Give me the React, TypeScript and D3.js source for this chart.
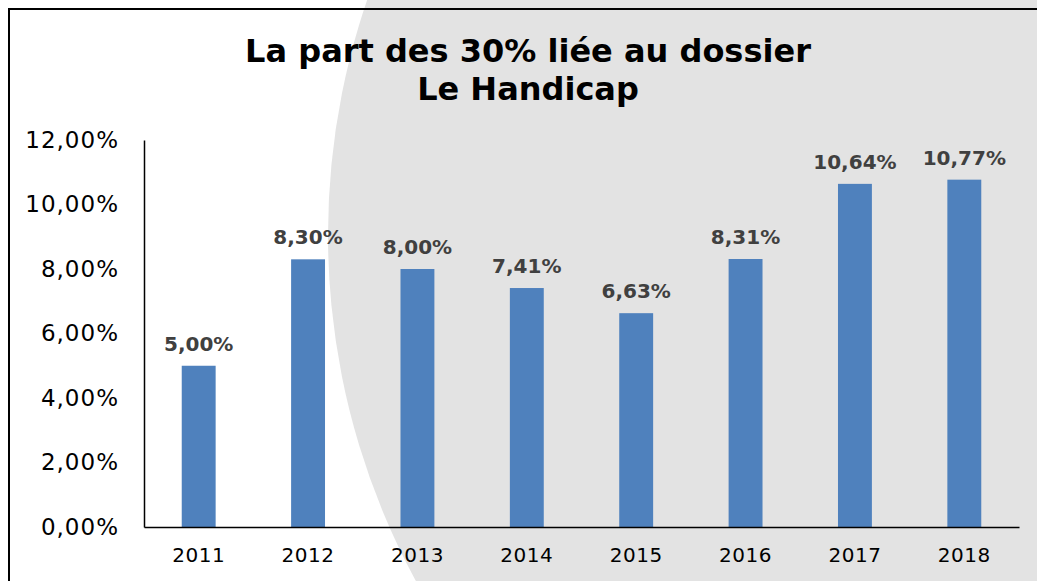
import { useEffect, useRef } from 'react';
import * as d3 from 'd3';

const years = ['2011', '2012', '2013', '2014', '2015', '2016', '2017', '2018'];
const shares = [5.0, 8.3, 8.0, 7.41, 6.63, 8.31, 10.64, 10.77];
const yTicks = [0, 2, 4, 6, 8, 10, 12];
const titleLines = ['La part des 30% liée au dossier', 'Le Handicap'];

const W = 1037;
const H = 581;
const FONT = '"DejaVu Sans", Verdana, sans-serif';

const fmt = (v: number) => v.toFixed(2).replace('.', ',') + '%';

export default function App() {
  const svgRef = useRef<SVGSVGElement>(null);

  useEffect(() => {
    if (!svgRef.current) return;
    const svg = d3.select(svgRef.current);
    svg.selectAll('*').remove();

    const plot = { left: 144, right: 1019, top: 140, bottom: 527 };

    const x = d3
      .scaleBand<string>()
      .domain(years)
      .range([plot.left, plot.right])
      .paddingInner(0.69)
      .paddingOuter(0.345);

    const y = d3.scaleLinear().domain([0, 12]).range([plot.bottom, plot.top]);

    // background
    svg.append('rect').attr('width', W).attr('height', H).attr('fill', '#ffffff');
    svg
      .append('circle')
      .attr('cx', 1053)
      .attr('cy', 235)
      .attr('r', 725)
      .attr('fill', '#e3e3e3');

    // frame (top + left visible)
    svg
      .append('path')
      .attr('d', `M9,${H} L9,9 L${W},9`)
      .attr('fill', 'none')
      .attr('stroke', '#000')
      .attr('stroke-width', 2);

    // title
    svg
      .append('g')
      .selectAll('text')
      .data(titleLines)
      .enter()
      .append('text')
      .attr('x', 528)
      .attr('y', (_d, i) => 62 + i * 38)
      .attr('text-anchor', 'middle')
      .style('font-family', FONT)
      .style('font-weight', 'bold')
      .style('font-size', '32px')
      .style('fill', '#000')
      .text((d) => d);

    // bars
    svg
      .append('g')
      .selectAll('rect')
      .data(shares)
      .enter()
      .append('rect')
      .attr('x', (_d, i) => x(years[i]) as number)
      .attr('y', (d) => y(d))
      .attr('width', x.bandwidth())
      .attr('height', (d) => plot.bottom - y(d))
      .attr('fill', '#4f81bd');

    // value labels
    svg
      .append('g')
      .selectAll('text')
      .data(shares)
      .enter()
      .append('text')
      .attr('x', (_d, i) => (x(years[i]) as number) + x.bandwidth() / 2)
      .attr('y', (d) => y(d) - 15)
      .attr('text-anchor', 'middle')
      .style('font-family', FONT)
      .style('font-weight', 'bold')
      .style('font-size', '20px')
      .style('fill', '#404040')
      .text((d) => fmt(d));

    // axes
    const yAxis = d3
      .axisLeft(y)
      .tickValues(yTicks)
      .tickSize(0)
      .tickPadding(25)
      .tickFormat((d) => fmt(d as number));
    const gy = svg.append('g').attr('transform', `translate(${plot.left},0)`).call(yAxis);
    gy.select('.domain').attr('stroke', '#000').attr('stroke-width', 1.5);
    gy.selectAll('text')
      .style('font-family', FONT)
      .style('font-size', '23px')
      .style('letter-spacing', '1px')
      .attr('fill', '#000');

    const xAxis = d3.axisBottom(x).tickSize(0).tickPadding(21);
    const gx = svg.append('g').attr('transform', `translate(0,${plot.bottom})`).call(xAxis);
    gx.select('.domain').attr('stroke', '#000').attr('stroke-width', 1.5);
    gx.selectAll('text')
      .style('font-family', FONT)
      .style('font-size', '20px')
      .style('letter-spacing', '0.5px')
      .attr('fill', '#000');
  }, []);

  return (
    <svg
      ref={svgRef}
      width={W}
      height={H}
      style={{ position: 'absolute', left: 0, top: 0, display: 'block' }}
    />
  );
}
